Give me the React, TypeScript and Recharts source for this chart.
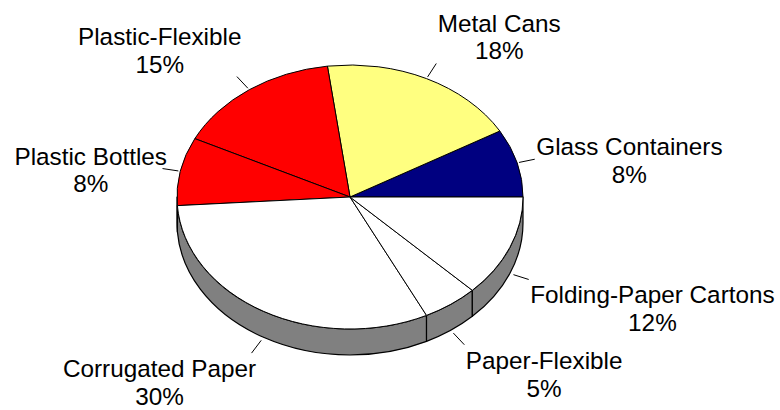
import React from "react";
import { PieChart, Pie } from "recharts";

// Packaging material shares (percent)
const categories = [
  "Glass Containers",
  "Metal Cans",
  "Plastic-Flexible",
  "Plastic Bottles",
  "Corrugated Paper",
  "Paper-Flexible",
  "Folding-Paper Cartons",
];
const shares = [8, 18, 15, 8, 30, 5, 12];
const sliceColors = ["#000080", "#FFFF80", "#FF0000", "#FF0000", "#FFFFFF", "#FFFFFF", "#FFFFFF"];

const data = categories.map((name, i) => ({ name, value: shares[i], fill: sliceColors[i] }));

const WIDTH = 780;
const HEIGHT = 410;
const CENTER_X = 350;
const CENTER_Y = 197;
const RADIUS_X = 173;
const TILT = 132 / 173; // vertical squash of the pie top
const DEPTH = 26; // thickness of the extruded rim
const WALL_COLOR = "#808080";

const FONT_SIZE = 24.3;
const LINE_GAP = 27.8;
const FONT_FAMILY = '"Liberation Sans", Arial, Helvetica, sans-serif';

const RAD = Math.PI / 180;

function ellipsePoint(cx: number, cy: number, rx: number, ry: number, deg: number): [number, number] {
  return [cx + rx * Math.cos(deg * RAD), cy - ry * Math.sin(deg * RAD)];
}

let measureCtx: CanvasRenderingContext2D | null = null;
function textWidth(s: string): number {
  if (!measureCtx) {
    const c = document.createElement("canvas");
    measureCtx = c.getContext("2d");
  }
  if (!measureCtx) return s.length * FONT_SIZE * 0.55;
  measureCtx.font = `${FONT_SIZE}px ${FONT_FAMILY}`;
  return measureCtx.measureText(s).width;
}

// Top face of a slice, projected onto the tilted ellipse
function TopFace(props: any) {
  const { cx, cy, outerRadius, startAngle, endAngle, fill } = props;
  const rx = outerRadius;
  const ry = rx * TILT;
  const [x1, y1] = ellipsePoint(cx, cy, rx, ry, startAngle);
  const [x2, y2] = ellipsePoint(cx, cy, rx, ry, endAngle);
  const large = Math.abs(endAngle - startAngle) > 180 ? 1 : 0;
  const d = `M${cx},${cy} L${x1},${y1} A${rx},${ry} 0 ${large} 0 ${x2},${y2} Z`;
  return <path d={d} fill={fill} stroke="#000" strokeWidth={1} strokeLinejoin="round" />;
}

// Visible side wall of a slice (only the front half of the rim)
function SideWall(props: any) {
  const { cx, cy, outerRadius, startAngle, endAngle } = props;
  const a1 = Math.max(Math.min(startAngle, endAngle), 180);
  const a2 = Math.min(Math.max(startAngle, endAngle), 360);
  if (a2 <= a1) return <g />;
  const rx = outerRadius;
  const ry = rx * TILT;
  const [x1, y1] = ellipsePoint(cx, cy, rx, ry, a1);
  const [x2, y2] = ellipsePoint(cx, cy, rx, ry, a2);
  const large = a2 - a1 > 180 ? 1 : 0;
  const d =
    `M${x1},${y1} A${rx},${ry} 0 ${large} 0 ${x2},${y2} ` +
    `L${x2},${y2 + DEPTH} A${rx},${ry} 0 ${large} 1 ${x1},${y1 + DEPTH} Z`;
  return <path d={d} fill={WALL_COLOR} stroke="#000" strokeWidth={1.2} strokeLinejoin="round" />;
}

function SliceLabel(props: any) {
  const { cx, cy, outerRadius, midAngle, payload, value } = props;
  const name = payload?.name ?? props.name;
  const rx = outerRadius;
  const ry = rx * TILT;
  const s = Math.sin(midAngle * RAD);
  const c = Math.cos(midAngle * RAD);
  const front = s < 0;
  const drop = front ? DEPTH : 0;
  const [px, py0] = ellipsePoint(cx, cy, rx, ry, midAngle);
  const py = py0 + drop;
  let dx = px - cx;
  let dy = py0 - cy;
  const len = Math.hypot(dx, dy) || 1;
  dx /= len;
  dy /= len;
  const gap = front ? 3.8 : 2;
  const sx = px + dx * gap;
  const sy = py + dy * gap;
  const ex = sx + dx * 16;
  const ey = sy + dy * 16;

  const line1 = String(name);
  const line2 = `${value}%`;
  const w = Math.max(textWidth(line1), textWidth(line2));

  let centerX = ex;
  if (c > 0.3) centerX = ex + 1.5 + w / 2;
  else if (c < -0.3) centerX = ex + 4.5 - w / 2;

  let base1 = ey - 4;
  if (s > 0.3) base1 = ey - 4 - LINE_GAP;
  else if (s < -0.3) base1 = ey + 24;

  return (
    <g>
      <line x1={sx} y1={sy} x2={ex} y2={ey} stroke="#000" strokeWidth={1} />
      <text x={centerX} y={base1} textAnchor="middle" fontSize={FONT_SIZE} fontFamily={FONT_FAMILY} fill="#000">
        {line1}
      </text>
      <text x={centerX} y={base1 + LINE_GAP} textAnchor="middle" fontSize={FONT_SIZE} fontFamily={FONT_FAMILY} fill="#000">
        {line2}
      </text>
    </g>
  );
}

export default function App() {
  return (
    <div style={{ position: "absolute", left: 0, top: 0, width: WIDTH, height: HEIGHT, background: "#fff" }}>
      <PieChart width={WIDTH} height={HEIGHT} margin={{ top: 0, right: 0, bottom: 0, left: 0 }}>
        <Pie
          data={data}
          dataKey="value"
          nameKey="name"
          cx={CENTER_X}
          cy={CENTER_Y}
          outerRadius={RADIUS_X}
          startAngle={0}
          endAngle={360}
          isAnimationActive={false}
          shape={SideWall}
          label={false}
          labelLine={false}
        />
        <Pie
          data={data}
          dataKey="value"
          nameKey="name"
          cx={CENTER_X}
          cy={CENTER_Y}
          outerRadius={RADIUS_X}
          startAngle={0}
          endAngle={360}
          isAnimationActive={false}
          shape={TopFace}
          label={SliceLabel}
          labelLine={false}
        />
      </PieChart>
    </div>
  );
}
